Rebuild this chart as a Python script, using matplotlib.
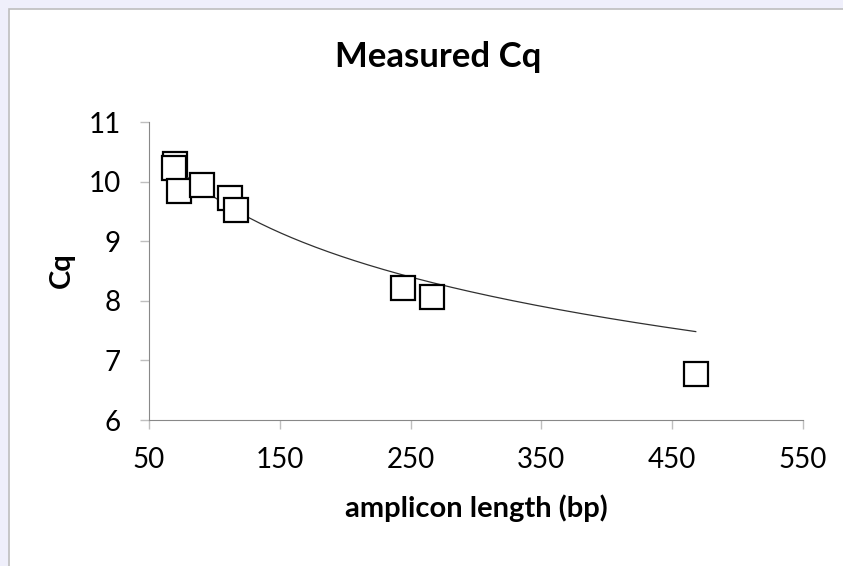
import numpy as np
import matplotlib.pyplot as plt
from matplotlib.patches import Rectangle

plt.rcParams['font.family'] = ['Lato', 'DejaVu Sans']

# amplicon length (bp) and measured Cq
lunghezza = [70, 69, 73, 90.5, 112, 116.5, 244, 266, 468]
cq = [10.30, 10.23, 9.84, 9.94, 9.72, 9.52, 8.21, 8.06, 6.78]

# linea di tendenza logaritmica: Cq = a*ln(x) + b
trend_a = -1.46
trend_b = 16.46
trend_x = [69, 468]

x_ticks = [50, 150, 250, 350, 450, 550]
y_ticks = [6, 7, 8, 9, 10, 11]

W, H = 843, 566
fig = plt.figure(figsize=(W / 100, H / 100), dpi=100)
fig.patch.set_facecolor('#EFEFFB')

# area del grafico bianca con bordo grigio
fig.patches.append(Rectangle((9 / W, -0.1), 1.2, 1.1 - 9 / H, transform=fig.transFigure,
                             facecolor='white', edgecolor='#BEBEBE', linewidth=1.2, zorder=-5))

ax = fig.add_axes([149 / W, 1 - 420 / H, 654 / W, 298 / H])
ax.set_zorder(5)
ax.set_facecolor('white')

xx = np.linspace(trend_x[0], trend_x[1], 200)
ax.plot(xx, trend_a * np.log(xx) + trend_b, color='#303030', linewidth=0.9, zorder=2)

ax.plot(lunghezza, cq, linestyle='none', marker='s', markersize=17,
        markerfacecolor='white', markeredgecolor='black', markeredgewidth=1.6, zorder=3)

ax.set_xlim(50, 550)
ax.set_ylim(6, 11)
ax.set_xticks(x_ticks)
ax.set_yticks(y_ticks)
ax.tick_params(labelsize=20, color='#BFBFBF', length=6.5, width=1, direction='out')
ax.tick_params(axis='x', pad=13)
ax.tick_params(axis='y', pad=14)

for s in ['top', 'right']:
    ax.spines[s].set_visible(False)
for s in ['left', 'bottom']:
    ax.spines[s].set_color('#888888')

fig.text(438.5 / W, 1 - 57 / H, "Measured Cq", fontsize=25, fontweight='bold',
         ha='center', va='center')
fig.text(476 / W, 1 - 508 / H, "amplicon length (bp)", fontsize=21, fontweight='bold',
         ha='center', va='center')
fig.text(62 / W, 1 - 270 / H, "Cq", fontsize=21, fontweight='bold', rotation=90,
         ha='center', va='center')

fig.savefig('out.png', dpi=100, facecolor=fig.get_facecolor())
